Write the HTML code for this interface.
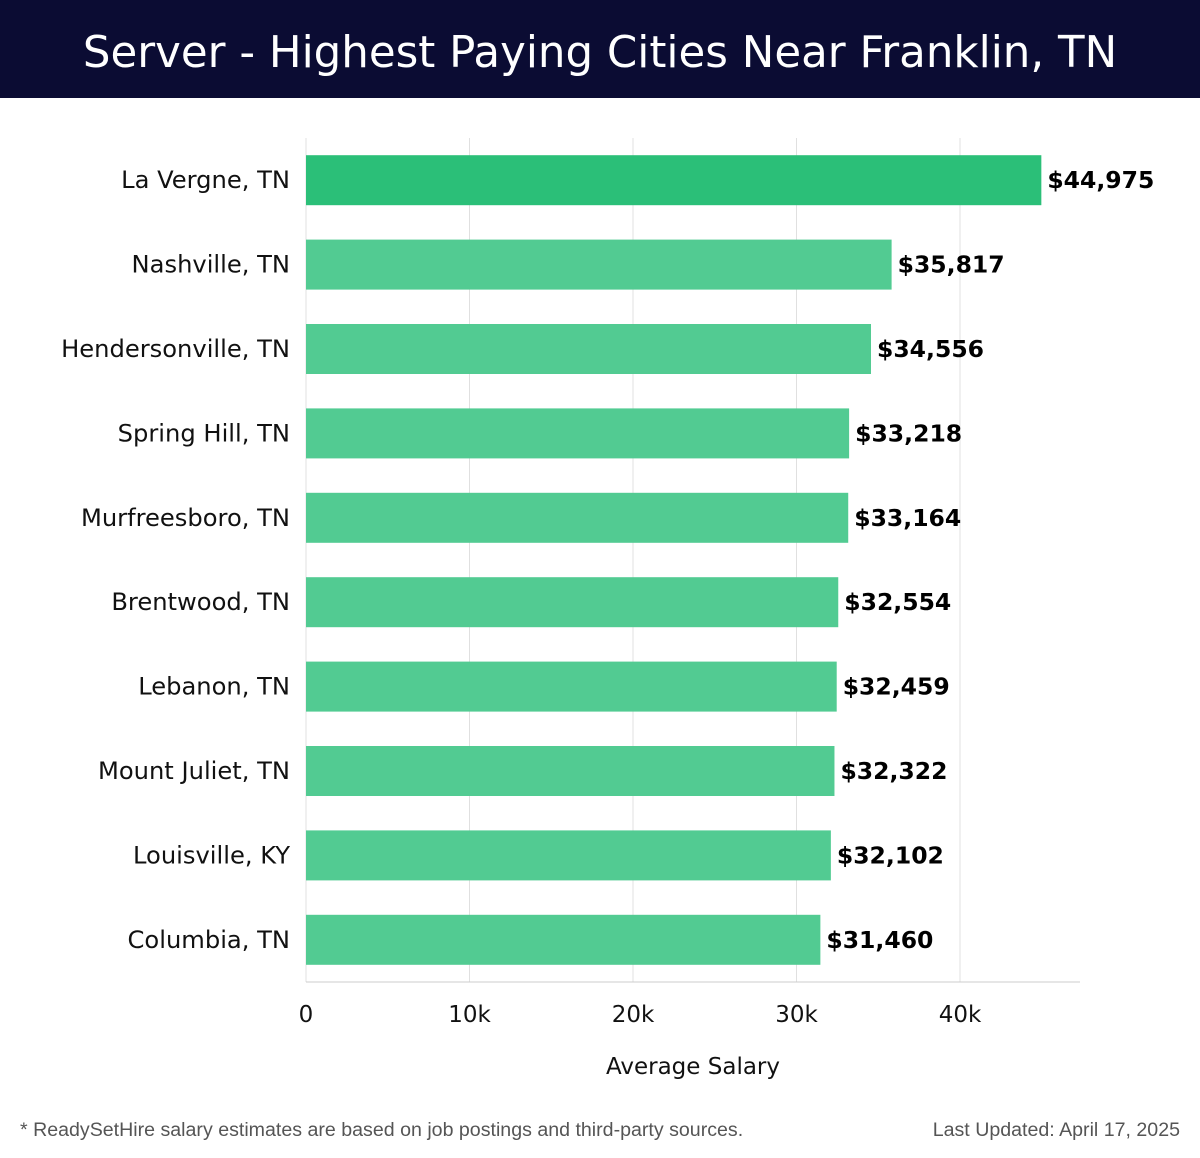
<!DOCTYPE html>
<html><head><meta charset="utf-8"><style>
body{margin:0;width:1200px;height:1158px;background:#fff;font-family:"DejaVu Sans","Liberation Sans",sans-serif;overflow:hidden}
#hdr{position:absolute;left:0;top:0;width:1200px;height:98px;background:#0b0c33;color:#fff;font-size:43.5px;text-align:center;line-height:106px}
.foot{position:absolute;top:1119px;font-size:19.6px;color:#555;font-family:"Liberation Sans",sans-serif}
</style></head><body>
<div id="hdr">Server - Highest Paying Cities Near Franklin, TN</div>
<svg id="chart" width="1200" height="1158" style="position:absolute;left:0;top:0"></svg>
<div class="foot" style="left:20px">* ReadySetHire salary estimates are based on job postings and third-party sources.</div>
<div class="foot" style="right:20px">Last Updated: April 17, 2025</div>
<script>
const categories=["La Vergne, TN","Nashville, TN","Hendersonville, TN","Spring Hill, TN","Murfreesboro, TN","Brentwood, TN","Lebanon, TN","Mount Juliet, TN","Louisville, KY","Columbia, TN"];
const values=[44975,35817,34556,33218,33164,32554,32459,32322,32102,31460];
const ticks=[0,10000,20000,30000,40000];
const tickLabels=["0","10k","20k","30k","40k"];
const svg=document.getElementById('chart');const NS='http://www.w3.org/2000/svg';
const x0=306,pxPer=(960-306)/40000,top0=138,bottom=982;
const step=(bottom-top0)/categories.length,bh=50;
const x=v=>x0+v*pxPer;
function mk(t,a){const e=document.createElementNS(NS,t);for(const k in a)e.setAttribute(k,a[k]);svg.appendChild(e);return e;}
ticks.forEach((t,i)=>{
 const g=mk('line',{x1:x(t),x2:x(t),y1:top0,y2:bottom,stroke:'#e0e0e0','stroke-width':1});
 
 
 const l=mk('text',{x:x(t),y:1022,'text-anchor':'middle','font-size':23,fill:'#111'});l.textContent=tickLabels[i];
 
 
});
const ax=mk('line',{x1:x0,x2:1080,y1:bottom,y2:bottom,stroke:'#ccc','stroke-width':1});


categories.forEach((c,i)=>{
 const cy=top0+step*(i+0.5);
 const r=mk('rect',{x:x0,y:cy-bh/2,width:x(values[i])-x0,height:bh,fill:i==0?'#2bbf78':'#52cb92'});
 
 
 const l=mk('text',{x:290,y:cy+8,'text-anchor':'end','font-size':24.2,fill:'#111'});l.textContent=c;
 
 
 const v=mk('text',{x:x(values[i])+6,y:cy+8,'font-size':23.5,'font-weight':'bold',fill:'#000'});v.textContent='$'+values[i].toLocaleString('en-US');
 
 
});
const t=mk('text',{x:693,y:1074,'text-anchor':'middle','font-size':23,fill:'#111'});t.textContent='Average Salary';


</script>
</body></html>
